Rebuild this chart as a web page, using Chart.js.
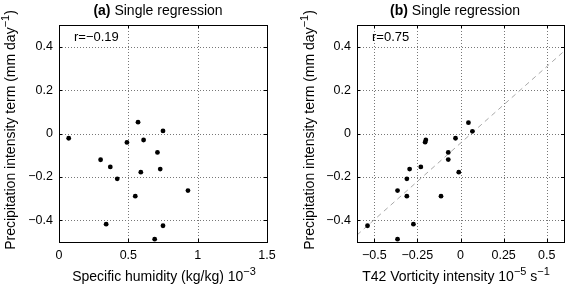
<!DOCTYPE html>
<html>
<head>
<meta charset="utf-8">
<script src="https://cdn.jsdelivr.net/npm/chart.js@4.4.1/dist/chart.umd.min.js"></script>
<style>
  body { margin: 0; background: #fff; }
  #wrap { position: relative; width: 568px; height: 285px; }
  canvas { position: absolute; top: 0; }
</style>
</head>
<body>
<div id="wrap">
  <canvas id="chartA" width="284" height="285" style="left:0"></canvas>
  <canvas id="chartB" width="284" height="285" style="left:284px"></canvas>
</div>
<script>
// panel (a): specific humidity vs precipitation intensity term
const humidity = [0.07, 0.57, 0.75, 0.49, 0.61, 0.71, 0.30, 0.37, 0.59, 0.73, 0.42, 0.93, 0.55, 0.34, 0.75, 0.69];
const precipA  = [-0.022, 0.052, 0.012, -0.041, -0.030, -0.087, -0.121, -0.154, -0.178, -0.164, -0.209, -0.263, -0.289, -0.418, -0.425, -0.487];

// panel (b): T42 vorticity intensity vs precipitation intensity term
const vorticity = [0.046, 0.069, -0.029, -0.201, -0.205, -0.071, -0.071, -0.295, -0.230, -0.010, -0.311, -0.365, -0.311, -0.113, -0.539, -0.273, -0.365];
const precipB   = [0.050, 0.010, -0.022, -0.030, -0.040, -0.087, -0.120, -0.164, -0.154, -0.178, -0.209, -0.263, -0.289, -0.289, -0.425, -0.418, -0.487];

// fitted line in panel (b)
const fitX = [-0.6, 0.6];
const fitY = [-0.468, 0.379];

const ticksXA = [0, 0.5, 1, 1.5];
const ticksXB = [-0.5, -0.25, 0, 0.25, 0.5];
const ticksY  = [-0.4, -0.2, 0, 0.2, 0.4];

const FONT = '"Liberation Sans", Arial, Helvetica, sans-serif';

function fmt(v) {
  const s = String(Math.abs(v));
  return v < 0 ? '\u2212' + s : s;
}

// draw a run of text pieces, some bold or raised
function richText(ctx, parts, x, y, size) {
  let widths = parts.map(p => {
    ctx.font = (p.bold ? 'bold ' : '') + (p.sup ? size - 3 : size) + 'px ' + FONT;
    return ctx.measureText(p.t).width;
  });
  let total = widths.reduce((a, b) => a + b, 0);
  let cx = x - total / 2;
  parts.forEach((p, i) => {
    ctx.font = (p.bold ? 'bold ' : '') + (p.sup ? size - 3 : size) + 'px ' + FONT;
    ctx.fillText(p.t, cx, p.sup ? y - 6 : y);
    cx += widths[i];
  });
}

const decor = {
  id: 'decor',
  beforeDatasetsDraw(chart) {
    // dotted grid at the tick positions
    const ctx = chart.ctx, a = chart.chartArea;
    const sx = chart.scales.x, sy = chart.scales.y;
    ctx.save();
    ctx.strokeStyle = '#777';
    ctx.lineWidth = 1;
    ctx.setLineDash([1, 2]);
    ctx.beginPath();
    sx.ticks.forEach(t => {
      const px = Math.round(sx.getPixelForValue(t.value)) + 0.5;
      ctx.moveTo(px, a.top); ctx.lineTo(px, a.bottom);
    });
    sy.ticks.forEach(t => {
      const py = Math.round(sy.getPixelForValue(t.value)) + 0.5;
      ctx.moveTo(a.left, py); ctx.lineTo(a.right, py);
    });
    ctx.stroke();
    ctx.restore();
  },
  afterDraw(chart, args, o) {
    const ctx = chart.ctx, a = chart.chartArea;
    const sx = chart.scales.x, sy = chart.scales.y;
    ctx.save();
    ctx.fillStyle = '#000';
    ctx.strokeStyle = '#000';
    ctx.lineWidth = 1;
    // box
    ctx.strokeRect(Math.round(a.left) + 0.5, Math.round(a.top) + 0.5,
      Math.round(a.right - a.left), Math.round(a.bottom - a.top));
    // inward tick marks
    ctx.beginPath();
    sx.ticks.forEach(t => {
      const px = Math.round(sx.getPixelForValue(t.value)) + 0.5;
      ctx.moveTo(px, a.bottom); ctx.lineTo(px, a.bottom - 3);
      ctx.moveTo(px, a.top); ctx.lineTo(px, a.top + 3);
    });
    sy.ticks.forEach(t => {
      const py = Math.round(sy.getPixelForValue(t.value)) + 0.5;
      ctx.moveTo(a.left, py); ctx.lineTo(a.left + 3, py);
      ctx.moveTo(a.right, py); ctx.lineTo(a.right - 3, py);
    });
    ctx.stroke();

    ctx.textBaseline = 'alphabetic';
    ctx.textAlign = 'left';
    // title
    richText(ctx, o.title, o.titleX, 14.5, 14);
    // x label
    richText(ctx, o.xLabel, o.xLabelX, 281, 14);
    // correlation
    ctx.font = '13px ' + FONT;
    ctx.fillText(o.rText, o.rX, 41);
    // y label
    ctx.translate(o.yLabelX, 130);
    ctx.rotate(-Math.PI / 2);
    richText(ctx, o.yLabel, 0, 5, 14);
    ctx.restore();
  }
};

const yTitle = [
  { t: 'Precipitation intensity term (mm day' },
  { t: '\u22121', sup: true },
  { t: ')' }
];

function makeChart(id, datasets, xMin, xMax, xTicks, yWidth, padRight, deco) {
  return new Chart(document.getElementById(id).getContext('2d'), {
    type: 'scatter',
    data: { datasets: datasets },
    options: {
      responsive: false,
      animation: false,
      devicePixelRatio: 1,
      layout: { padding: { top: 25, right: padRight, left: 0, bottom: 0 } },
      plugins: { legend: { display: false }, tooltip: { enabled: false }, decor: deco },
      scales: {
        x: {
          type: 'linear', min: xMin, max: xMax,
          afterBuildTicks: s => { s.ticks = xTicks.map(v => ({ value: v })); },
          afterFit: s => { s.height = 43; },
          grid: { display: false, drawTicks: false },
          border: { display: false },
          ticks: { autoSkip: false, maxRotation: 0, padding: 6, color: '#000',
                   font: { family: FONT, size: 12.5 }, callback: v => fmt(v) }
        },
        y: {
          type: 'linear', min: -0.5, max: 0.5,
          afterBuildTicks: s => { s.ticks = ticksY.map(v => ({ value: v })); },
          afterFit: s => { s.width = yWidth; },
          grid: { display: false, drawTicks: false },
          border: { display: false },
          ticks: { padding: 6, color: '#000',
                   font: { family: FONT, size: 12.5 }, callback: v => fmt(v) }
        }
      }
    },
    plugins: [decor]
  });
}

function points(xs, ys) {
  return xs.map((x, i) => ({ x: x, y: ys[i] }));
}

makeChart('chartA', [{
  data: points(humidity, precipA),
  pointRadius: 2.4, pointBackgroundColor: '#000', pointBorderWidth: 0
}], 0, 1.5, ticksXA, 59, 17, {
  title: [{ t: '(a)', bold: true }, { t: ' Single regression' }],
  titleX: 158,
  xLabel: [{ t: 'Specific humidity (kg/kg) 10' }, { t: '\u22123', sup: true }],
  xLabelX: 164,
  yLabel: yTitle,
  yLabelX: 10,
  rText: 'r=\u22120.19', rX: 74
});

makeChart('chartB', [{
  data: points(vorticity, precipB),
  pointRadius: 2.4, pointBackgroundColor: '#000', pointBorderWidth: 0
}, {
  type: 'line',
  data: points(fitX, fitY),
  borderColor: '#a8a8a8', borderWidth: 1, borderDash: [5, 4],
  pointRadius: 0, fill: false
}], -0.6, 0.6, ticksXB, 73, 4, {
  title: [{ t: '(b)', bold: true }, { t: ' Single regression' }],
  titleX: 171,
  xLabel: [{ t: 'T42 Vorticity intensity 10' }, { t: '\u22125', sup: true },
           { t: ' s' }, { t: '\u22121', sup: true }],
  xLabelX: 172,
  yLabel: yTitle,
  yLabelX: 25,
  rText: 'r=0.75', rX: 88
});
</script>
</body>
</html>
